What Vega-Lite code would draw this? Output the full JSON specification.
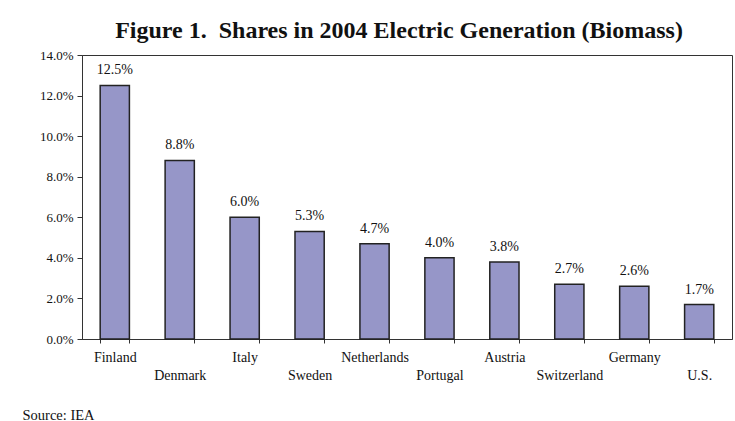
{
  "$schema": "https://vega.github.io/schema/vega-lite/v6.json",
  "width": 650,
  "height": 284,
  "autosize": {"type": "none"},
  "padding": {"left": 82, "top": 55, "right": 3, "bottom": 82},
  "background": "white",
  "title": {
    "text": "Figure 1.\u00a0 Shares in 2004 Electric Generation (Biomass)",
    "font": "Liberation Serif",
    "fontSize": 24,
    "fontWeight": "bold",
    "color": "#111",
    "anchor": "middle",
    "dx": -8,
    "offset": 6
  },
  "data": {
    "values": [
      {"country": "Finland", "share": 0.125},
      {"country": "Denmark", "share": 0.088},
      {"country": "Italy", "share": 0.060},
      {"country": "Sweden", "share": 0.053},
      {"country": "Netherlands", "share": 0.047},
      {"country": "Portugal", "share": 0.040},
      {"country": "Austria", "share": 0.038},
      {"country": "Switzerland", "share": 0.027},
      {"country": "Germany", "share": 0.026},
      {"country": "U.S.", "share": 0.017}
    ]
  },
  "encoding": {
    "x": {
      "field": "country",
      "type": "nominal",
      "sort": null,
      "scale": {"paddingInner": 0.55, "paddingOuter": 0.28},
      "axis": {
        "title": "Source: IEA",
        "titleFont": "Liberation Serif",
        "titleFontSize": 14.5,
        "titleFontWeight": "normal",
        "titleColor": "#111",
        "titleAnchor": "start",
        "titleAlign": "left",
        "titleBaseline": "alphabetic",
        "titleX": -60,
        "titleY": 80,
        "labelAngle": 0,
        "labelFont": "Liberation Serif",
        "labelFontSize": 14,
        "labelColor": "#111",
        "labelBaseline": "top",
        "labelPadding": {"expr": "indexof(domain('x'), datum.value) % 2 ? 25 : 7"},
        "tickBand": "extent",
        "tickSize": 4,
        "tickColor": "#333",
        "domainColor": "#333",
        "labelOverlap": false
      }
    },
    "y": {
      "field": "share",
      "type": "quantitative",
      "scale": {"domain": [0, 0.14], "nice": false},
      "axis": {
        "title": null,
        "format": ".1%",
        "values": [0, 0.02, 0.04, 0.06, 0.08, 0.1, 0.12, 0.14],
        "grid": false,
        "labelFont": "Liberation Serif",
        "labelFontSize": 13,
        "labelColor": "#111",
        "labelPadding": 4,
        "tickSize": 5,
        "tickColor": "#333",
        "domainColor": "#333"
      }
    }
  },
  "layer": [
    {
      "mark": {"type": "bar", "color": "#9696C8", "stroke": "#222", "strokeWidth": 1.5}
    },
    {
      "mark": {"type": "text", "baseline": "bottom", "dy": -8, "font": "Liberation Serif", "fontSize": 14, "color": "#111"},
      "encoding": {"text": {"field": "share", "format": ".1%"}}
    }
  ],
  "config": {
    "view": {"stroke": "#333", "strokeWidth": 1}
  }
}
